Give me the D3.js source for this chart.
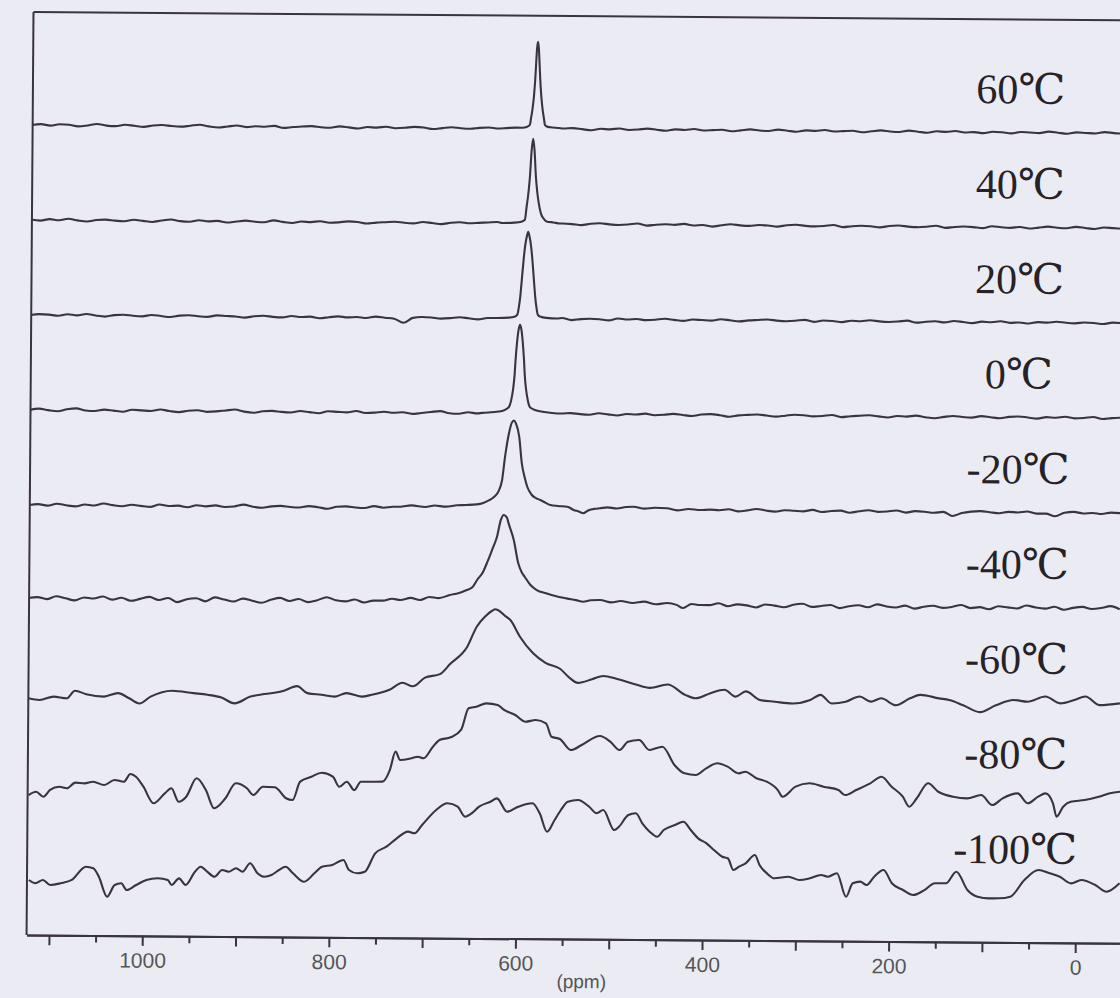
<!DOCTYPE html>
<html><head><meta charset="utf-8">
<script src="https://cdn.jsdelivr.net/npm/d3@7"></script>
<style>html,body{margin:0;padding:0;background:#ebebf3;} svg{display:block}</style>
</head><body>
<svg id="chart" width="1120" height="998"></svg>
<script>
// ---------- data ----------
const temperatures = ["60℃","40℃","20℃","0℃","-20℃","-40℃","-60℃","-80℃","-100℃"];
const tickLabels = [1000, 800, 600, 400, 200, 0];
const majorTicks = [1100, 1000, 900, 800, 700, 600, 500, 400, 300, 200, 100, 0];
const minorTicks = [1050, 950, 850, 750, 650, 550, 450, 350, 250, 150, 50];
const axisTitle = "(ppm)";

// sampling grid (ppm) for the baseline noise of the narrow-line spectra
const gridPpm = [1125,1115,1105,1095,1085,1075,1065,1055,1045,1035,1025,1015,1005,995,985,975,965,955,945,935,
 925,915,905,895,885,875,865,855,845,835,825,815,805,795,785,775,765,755,745,735,
 725,715,705,695,685,675,665,655,645,635,625,615,605,595,585,575,565,555,545,535,
 525,515,505,495,485,475,465,455,445,435,425,415,405,395,385,375,365,355,345,335,
 325,315,305,295,285,275,265,255,245,235,225,215,205,195,185,175,165,155,145,135,
 125,115,105,95,85,75,65,55,45,35,25,15,5,-5,-15,-25,-35,-45];

const noise60 = [0,1,-0.5,1,0.5,-1,0,1.5,0,-0.5, 1,0,-1,0.5,1,0,-0.5,0.5,1.5,0, -1,0,1,-0.5,0.5,0,1,-1,0,0.5,
 1,0,-0.5,1,0,-1,0.5,0,1,-0.5, 0,1,0.5,-1,0,1,0,-0.5,0.5,1, 0,0.5,1,2,1,0.5,0,-0.5,1,0,
 -1,0.5,0,1,-0.5,0,1,0,-1,0.5, 0,1,-0.5,0,0.5,-1,0,1,0,-0.5, 1,0,-1,0.5,0,1,-0.5,0,0.5,-1,
 0,1,0,-0.5,1,0,-1,0.5,0,1, -0.5,0,-1,0.5,0,-1,0.5,0,-0.5,1, 0,-1,0.5,0,-0.5,1,0,-0.5];
const noise40 = [0.5,-0.5,1,0,1.5,0,-1,0.5,1,0, -0.5,1,0,-1,0.5,1.5,0,-0.5,1,0, 0.5,-1,0,1,0,-0.5,1.5,0,-1,0.5,
 0,1,-0.5,0,1,0.5,-1,0,0.5,1, 0,-0.5,1,0,-1,0.5,1,0,0.5,1, 1.5,0.5,0,1,0,-0.5,1,0.5,0,-1,
 0.5,1,0,-0.5,0,1,-1,0,0.5,0, 1,-0.5,0,-1.5,0,1,0,-0.5,0.5,0, -1,0.5,1,0,-0.5,0,1,-1,0,0.5,
 0,-1,0.5,1,0,-0.5,0,1,-1,0, 0.5,0,-1,1,0,-0.5,0.5,-1,0,1, 0,-0.5,1,0,-1,0.5,0,-0.5];
const noise20 = [0,1,0.5,-0.5,1,0,1.5,0,-1,0.5, 1,0,-0.5,1,0,-1,0.5,1,0,-0.5, 1,0.5,0,-1,0.5,1,0,-0.5,1,0,
 0.5,-1,0,1,0,0.5,-0.5,1,0,-1, -5,0,1,0.5,-0.5,0,1,0,-1,0.5, 0,1,0.5,1,0,-0.5,0,1,-1,0,
 0.5,0,-1,1,0,0.5,-0.5,0,1,0, -1,0.5,0,-0.5,1,0,-1,0,0.5,1, 0,-0.5,0,1,-1,0.5,0,-1,0.5,0,
 1,0,-0.5,0,1,-1,0,0.5,-0.5,1, 0,-1,0.5,0,1,-0.5,0,-1,0.5,0, 1,0,-0.5,0.5,0,-1,0.5,0];
const noise0 = [0,1.5,0,-1,1,2,0,-0.5,1,0, -1,1,0.5,0,1.5,0,-1,0.5,1,-0.5, 0,1,2,0,-1,0.5,1,0,-0.5,1,
 0,-1,1,0.5,0,1.5,-0.5,0,1,0, 0.5,-1,0,1,2,0,-0.5,1,0,0.5, 1,0.5,1.5,1,2,1,0.5,0,1,0,
 -0.5,1,0,-1,0.5,0,1,-0.5,0,1, 0,-1,0.5,1,0,-1.5,0,0.5,1,0, -1,0,1,0.5,-0.5,0,1,-1,0,0.5,
 1,0,-1,0.5,0,1,-0.5,-1.5,0,1, 0,-0.5,1,0,-1,0.5,1,0,-1,0.5, 0,1,-0.5,0,1,-1,0,0.5];
const noiseM20 = [0,1,-0.5,1.5,0,-1,1,0,2,0.5, -0.5,1,0,-1,1.5,0,0.5,-1,1,0, 1,-0.5,0,2,0,-1,0.5,1,0,-0.5,
 1,0,-1.5,0.5,1,0,-0.5,1.5,0,1, null,null,null,null,null,null,null,null,null,null, null,null,null,null,null,null,null,null,null,null,
 null,null,null,null,null,null,null,null,null,null, 1,0,-1,0.5,0,1,-1,0,1.5,0, -1,0.5,0,-0.5,1,-1,0,0.5,-1.5,0,
 1,-0.5,0,1,-1,0.5,0,-1,0,-4, -1,0.5,1,0,-1,0.5,0,1,-1,-1, -3.5,0,1,-0.5,0,-1,0.5,0];
const noiseM40 = [2,3,1,4,2,0,3,2,4,1, 3,0,2,4,1,3,-1,2,3,0, 4,2,0,3,1,-1,2,4,1,3,
 0,2,5,2,1,3,0,2,3,2, null,null,null,null,null,null,null,null,null,null, null,null,null,null,null,null,null,null,null,null,
 null,null,null,null,null,null,null,null,null,null, 0,1,-1,0,2,-1,1,0,-2,1, 0,-1.5,1,2,-1,0,1,-2,0,1,
 -1,2,0,-1,1,-2,0,1,-1,0, 2,-1,0,-2,1,0,-1,2,0,-1, 1,-2,0,1,-1,0,2,-1];

// resonance line shapes [ppm, intensity]
const peak60 = [[616,0.5],[606,1],[599,1],[594,2],[591,4],[590,10],[588.5,19],[587,32],[585.7,49],[585,62],[584,80],[583,87],
 [582,80],[581,62],[580.3,49],[579,32],[577.5,19],[576,10],[575,4],[572,2],[567,1.5],[560,1],[555,0.5]];
const peak40 = [[620,0.5],[607,1],[599.4,2],[595.7,4],[593.8,18],[592.4,28],[590.6,47],[588.9,74],[587.4,85],
 [585.9,74],[584.2,47],[582.4,30],[581,21],[578.4,10],[575.4,5],[572.4,2.5],[565,1.5],[558,0.5]];
const peak20 = [[625,0.5],[612,1],[606,2],[603,4],[601.5,11],[600,22],[599,33],[597.5,50],[596.5,61],[595,74],[593.5,82],[592,87],
 [590.5,82],[589,74],[587.5,61],[586.5,50],[585,33],[584,22],[582.5,11],[581,4],[578,2],[572,1],[560,0.5]];
const peak0 = [[640,0.5],[622,2],[615,4],[611,7],[609,13],[607,24],[605.5,38],[604.5,54],[603,72],[601.5,84],[600,89],
 [598.5,84],[597,72],[595.5,54],[594.5,38],[593,24],[591,13],[589,7],[585,4.5],[578,2.5],[565,1],[555,0.5]];
const peakM20 = [[735,1],[727,1.1],[715,2.5],[700,1],[690,2.5],[678,1.5],[666,3],[656,3.3],[645,4],[638,5.5],[631,8.5],[626,12],
 [622,16.8],[618,28.6],[615,51.9],[611,75.3],[608,86],[605.8,88],[603.5,85],[600,72],[597,45.4],[594,32],[591,22],[586,13.8],
 [581,10.5],[577,8.85],[571,6],[566,3.9],[558,3],[548,2.35],[541,-0.9],[535,-2.5],[531,-4.1],[525,-1],[518,0.5],[513,1],
 [505,2],[495,1],[485,2.5],[477,2.85],[465,1],[454,2],[441,1.5],[430,-0.5],[418,1],[405,0]];
const peakM40 = [[745,2],[735,4],[726,2.8],[715,5],[705,3],[695,6],[685,5],[673,8.2],[664,10],[655,13.3],[649,16],[644,23.4],
 [638,31],[633,41.8],[628,54],[623,66.8],[619,83.6],[616,88.6],[612.5,86],[610.6,80],[605,63.7],[600,40.4],[596,31],[593,27],
 [587,19],[580,13.8],[570,10.6],[560,8],[548,5.7],[538,4],[530,2.5],[522,4],[512,4.3],[500,2],[490,3.5],[477,1.5],[465,3],
 [452,0.5],[440,1.8],[430,0],[423,-3.1],[414,1],[405,0]];

// broad low-temperature spectra [ppm, intensity]
const specM60 = [[1124,-3.3],[1112,-4.9],[1097,-1.4],[1083,-3],[1074,4.6],[1062,1.3],[1043,-1],[1028,2.6],[1016,-2.5],[1005,-7.6],
 [993,-0.7],[970,5.4],[947,3.1],[932,1.6],[917,-1.1],[903,-6.8],[886,0.1],[871,2.7],[852,5.6],[836,10.9],[825,4],[810,2.4],
 [796,0.7],[783,4.3],[767,0.9],[756,2.8],[737,8],[723,15],[712,11.6],[699,20.4],[683,24],[672,34.4],[654,51.6],[644,71.7],
 [635,82],[628,87.5],[624,89.2],[619,87],[614,83],[608,78.6],[597.6,62],[583.6,45.7],[570,36],[554,30],[545,22],[535,16.3],
 [520,20],[508,23.4],[492,20.1],[473,15.1],[458,11.8],[439,15.3],[420,5.1],[409,1.7],[393,7],[378,10.5],[366,3.7],[355,9],
 [340,0.5],[324,-1.1],[305,-2.7],[286,0.9],[275,6.1],[263,-2.4],[248,-0.6],[233,4.7],[221,-0.3],[210,3.1],[194,-3.7],
 [179,3.3],[168,6.8],[148,3.5],[137,1.9],[122,-3.2],[104,-10],[87,-3],[68,2.4],[53,0.8],[34,6.1],[18,-0.6],[3,2.9],
 [-9,6.4],[-24,-2.1],[-46,-0.2]];
const specM80 = [[1123,-5],[1115,-1.6],[1107,-6.6],[1100,0.2],[1090,3.5],[1082,2],[1073,7.7],[1063,7.1],[1054,8.8],[1042,5.6],
 [1031,10.7],[1021,9],[1014,16.8],[1008,14.1],[1000,4.2],[989,-12.3],[977,-2.3],[970,2.8],[962,-10.6],[954,-5.5],[943,13],
 [933,1.3],[924,-16.9],[912,-6.8],[901,8.3],[889,3.4],[882,-3.3],[872,5.1],[859,4.6],[847,-6.3],[840,-8],[832,10.4],
 [820,15.4],[809,19.5],[797,15.6],[790,5.6],[782,10.7],[774,2.4],[767,10.8],[755,10.9],[744,11],[736,22.7],[730,41.1],
 [725,32.8],[713,34.6],[706,36.2],[700,34.7],[690,46.3],[683,53.1],[671,55.9],[660,63.3],[652,85],[644,86.7],[633,90.1],
 [621,88.5],[614,83.6],[602,78.7],[591,72],[580,73.8],[569,70.6],[563,57.2],[554,55],[542,44.1],[530.5,49.2],[511,58.3],
 [500,52.7],[490,44.4],[481,52.8],[469,54.6],[458,44.7],[444,48.1],[431,29.9],[420,21.6],[408,20],[397,26.8],[385,31.9],
 [374,28.6],[362,22],[355,23.7],[343,17.2],[332,13.9],[320,5.6],[315,-1],[301,9.1],[286,12.6],[271,9.3],[255,6.1],
 [248,1.1],[236,6.2],[221,13],[209,19.7],[198,9.8],[186,-0.1],[179,-10.1],[171,-1.6],[159,13.5],[148,5.1],[132,0.2],
 [117,-1.3],[102,2.2],[90,-7.8],[79,-1],[63,4.1],[52,-5.8],[41,0.9],[33,4.3],[25,-5.6],[21,-19],[14,-8.9],[6,-3.9],
 [-9,-2.1],[-24,1.3],[-36,4.8],[-47,6.5]];
const specM100 = [[1122,5],[1115,1.8],[1107,5.1],[1099,0.2],[1088,2],[1076,5.4],[1061,18.7],[1053,17.2],[1047,8.8],[1038,-11.1],
 [1030,0.7],[1023,2.4],[1017,-4.3],[1007,0.8],[996,5.9],[984,7.7],[973,6],[969,1.1],[961,7.8],[954,1.2],[944,14.6],[938,19.6],
 [931,14.7],[923,9.7],[915,16.5],[908,14.8],[900,18.3],[893,14.9],[885,23.4],[877,13.4],[870,10.1],[862,11.8],[854,16.9],
 [847,20.2],[839,13.7],[827,5.4],[816,13.9],[808,20.5],[797,22.3],[785,27.4],[779,17.4],[770,14.2],[762,15.8],[751,34.3],
 [739,41],[728,49.5],[716,56.2],[709,54.6],[701,63],[686,78.1],[674,84.9],[663,81.5],[655,71.6],[648,75],[640,81.7],
 [628,86.8],[621,90.2],[610,76.9],[598,82],[583,85.5],[575,75.5],[567,57.2],[559,69],[553,78],[545,87.3],[534,89.1],
 [522,82.5],[514,76],[507,79.3],[495,59.4],[490,62.7],[480,74.5],[472,76.3],[465,66.3],[457,58],[449,53],[442,59.8],
 [430,64.9],[421,68.2],[413,60],[405,51.7],[396,46.8],[388,40.2],[379,33.5],[373,32],[367,20.3],[361,23.7],[354,27.1],
 [344,35.5],[339,25.5],[331,17.2],[323,12.3],[308,14],[296,10.8],[285,12.6],[273,16],[266,14.3],[256,17.8],[246,-5.6],
 [239,7.9],[231,9.6],[224,6.3],[216,14.7],[206,21.4],[197,8.2],[185,1.6],[174,-3.3],[162,1.7],[151,8.5],[139,8.6],
 [128,20.3],[116,2.1],[105,-4.6],[93,-6.1],[82,-6],[70,-4.3],[55,12.5],[40,22.6],[28,19.4],[17,16],[5,9.5],[-6,12.9],
 [-21,8],[-33,1.4],[-47,9.9]];

// ---------- assembly ----------
function withPeak(noise, peak) {
  const lo = d3.min(peak, d => d[0]), hi = d3.max(peak, d => d[0]);
  const base = gridPpm.map((p, i) => [p, noise[i]])
    .filter(d => d[1] !== null && (d[0] < lo || d[0] > hi));
  return base.concat(peak).sort((a, b) => b[0] - a[0]);
}
const spectra = [
  withPeak(noise60, peak60), withPeak(noise40, peak40), withPeak(noise20, peak20),
  withPeak(noise0, peak0), withPeak(noiseM20, peakM20), withPeak(noiseM40, peakM40),
  specM60, specM80, specM100
];

// ---------- drawing ----------
const W = 1120, H = 998;
const plotLeft = 30, plotTop = 16, plotBottom = 939;
const step = 95;
const ink = "#3a3340";

const svg = d3.select("#chart");
svg.append("rect").attr("width", W).attr("height", H).attr("fill", "#ebebf3");

const g = svg.append("g").attr("transform", "rotate(0.43,560,480)");

const x = d3.scaleLinear().domain([1124, -50]).range([plotLeft, plotLeft + 1174 * 0.933]);
const y = d3.scaleLinear().domain([-810, 113]).range([plotBottom, plotTop]);

g.append("clipPath").attr("id", "plotclip").append("rect")
  .attr("x", plotLeft).attr("y", 0).attr("width", 1200).attr("height", plotBottom);

// frame (top and left)
g.append("line").attr("x1", plotLeft).attr("x2", 1200).attr("y1", plotTop).attr("y2", plotTop)
  .attr("stroke", ink).attr("stroke-width", 2);
g.append("line").attr("x1", plotLeft).attr("x2", plotLeft).attr("y1", plotTop).attr("y2", plotBottom)
  .attr("stroke", ink).attr("stroke-width", 2);

const line = d3.line().curve(d3.curveMonotoneX);
const lines = g.append("g").attr("clip-path", "url(#plotclip)");
spectra.forEach((s, i) => {
  lines.append("path")
    .attr("d", line.x(d => x(d[0])).y(d => y(d[1] - i * step))(s))
    .attr("fill", "none").attr("stroke", ink).attr("stroke-width", 2.1)
    .attr("stroke-linejoin", "round");
});

// temperature labels
g.append("g").selectAll("text").data(temperatures).join("text")
  .attr("x", 1018).attr("y", (d, i) => y(-i * step) - 29)
  .attr("text-anchor", "middle")
  .attr("font-family", "'Liberation Serif','Times New Roman','DejaVu Serif',serif")
  .attr("font-size", 42).attr("fill", "#262228")
  .text(d => d);

// x axis
const axisG = g.append("g").attr("transform", `translate(0,${plotBottom})`);
axisG.append("g").call(d3.axisBottom(x).tickValues(minorTicks).tickSize(7).tickSizeOuter(0).tickFormat(""));
axisG.append("g").call(d3.axisBottom(x).tickValues(majorTicks).tickSize(10).tickSizeOuter(0)
  .tickFormat(d => tickLabels.includes(d) ? d : ""));
axisG.selectAll("path.domain").attr("stroke", ink).attr("stroke-width", 2);
axisG.selectAll(".tick line").attr("stroke", ink).attr("stroke-width", 2);
axisG.selectAll(".tick text").attr("font-family", "'Liberation Sans',Arial,sans-serif")
  .attr("font-size", 21).attr("fill", "#555").attr("dy", "0.9em");

g.append("text").attr("x", 585).attr("y", 988).attr("text-anchor", "middle")
  .attr("font-family", "'Liberation Sans',Arial,sans-serif").attr("font-size", 19).attr("fill", "#555")
  .text(axisTitle);
</script>
</body></html>
